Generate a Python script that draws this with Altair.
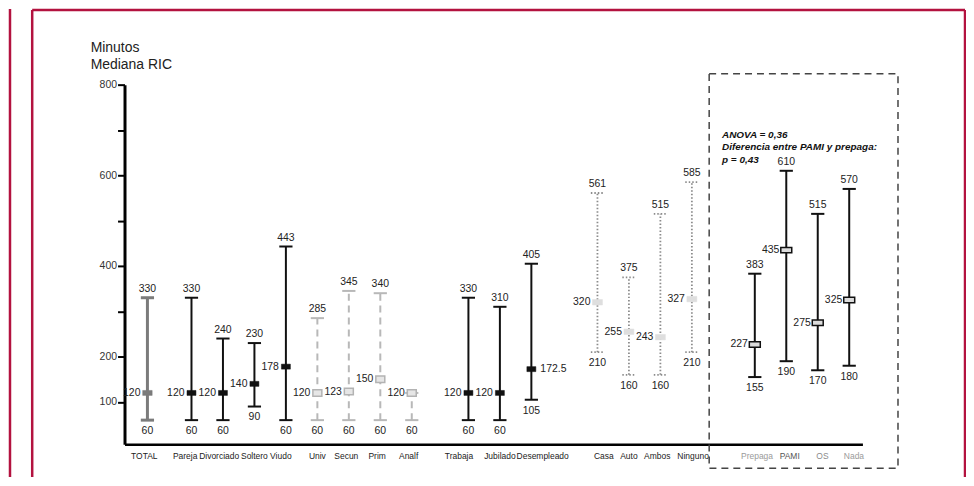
import altair as alt
import pandas as pd

# ---------------- data ----------------
categories = ["TOTAL", "Pareja", "Divorciado", "Soltero", "Viudo",
              "Univ", "Secun", "Prim", "Analf",
              "Trabaja", "Jubilado", "Desempleado",
              "Casa", "Auto", "Ambos", "Ninguno",
              "Prepaga", "PAMI", "OS", "Nada"]
q1 = [60, 60, 60, 90, 60, 60, 60, 60, 60, 60, 60, 105, 210, 160, 160, 210, 155, 190, 170, 180]
median = [120, 120, 120, 140, 178, 120, 123, 150, 120, 120, 120, 172.5, 320, 255, 243, 327, 227, 435, 275, 325]
q3 = [330, 330, 240, 230, 443, 285, 345, 340, 120, 330, 310, 405, 561, 375, 515, 585, 383, 610, 515, 570]

groups = [
    ("total", ["TOTAL"]),
    ("estado", ["Pareja", "Divorciado", "Soltero", "Viudo"]),
    ("educ", ["Univ", "Secun", "Prim", "Analf"]),
    ("ocup", ["Trabaja", "Jubilado", "Desempleado"]),
    ("viv", ["Casa", "Auto", "Ambos", "Ninguno"]),
    ("cob", ["Prepaga", "PAMI", "OS", "Nada"]),
]

title_lines = "Minutos\nMediana RIC"
note_lines = "ANOVA = 0,36\nDiferencia entre PAMI y prepaga:\np = 0,43"

# ---------------- layout / style ----------------
GROUP_GAP = {"total": 0, "estado": 1.4, "educ": 1.0, "ocup": 1.8, "viv": 2.1, "cob": 2.0}
LABEL_SHIFT = [-0.1, -0.2, -0.12, 0.0, -0.16, 0.0, -0.08, -0.1, -0.1, -0.3, 0.0, 0.36,
               0.2, 0.0, -0.1, 0.04, 0.07, 0.11, 0.15, 0.15]
LABEL_COLOR = {"Prepaga": "#9a9a9a", "PAMI": "#555555", "OS": "#8c8c8c", "Nada": "#9a9a9a"}
MED_RIGHT = ["Desempleado"]
CAP = 0.21
FONT = "Liberation Sans"
CRIMSON = "#b3123f"

STYLE = {
    "total": dict(color="#7b7b7b", width=3, dash=None, cap_dash=None, fill="#7b7b7b", stroke="#7b7b7b", sw=0.5, mw=9.5, mh=5),
    "estado": dict(color="#111111", width=2, dash=None, cap_dash=None, fill="#111111", stroke="#111111", sw=0.5, mw=9, mh=5),
    "educ": dict(color="#b8b8b8", width=2, dash=[7, 5], cap_dash=None, fill="#e6e6e6", stroke="#b3b3b3", sw=1.5, mw=9, mh=6.5),
    "ocup": dict(color="#111111", width=2, dash=None, cap_dash=None, fill="#111111", stroke="#111111", sw=0.5, mw=9, mh=5),
    "viv": dict(color="#8c8c8c", width=1.8, dash=[1.5, 2], cap_dash=[1.5, 2], fill="#dedede", stroke="#dedede", sw=0.5, mw=10, mh=5.5),
    "cob": dict(color="#111111", width=2, dash=None, cap_dash=None, fill="#dcdcdc", stroke="#111111", sw=1.5, mw=11, mh=5.5),
}

# ---------------- table ----------------
grp_of, pos_of = {}, {}
cur = None
for g, members in groups:
    for i, c in enumerate(members):
        if cur is None:
            cur = 0.0
        elif i == 0:
            cur += GROUP_GAP[g]
        else:
            cur += 1.0
        grp_of[c] = g
        pos_of[c] = round(cur, 3)


def fmt(v):
    return f"{v:g}"


df = pd.DataFrame({
    "cat": categories,
    "q1": q1,
    "med": median,
    "q3": q3,
})
df["grp"] = [grp_of[c] for c in categories]
df["pos"] = [pos_of[c] for c in categories]
df["lpos"] = df["pos"] + pd.Series(LABEL_SHIFT)
df["q1_t"] = [fmt(v) for v in q1]
df["med_t"] = [fmt(v) for v in median]
df["q3_t"] = [fmt(v) for v in q3]
df["lcolor"] = [LABEL_COLOR.get(c, "#222222") for c in categories]
df["show_top"] = [a != b for a, b in zip(q3, median)]
df["med_right"] = [c in MED_RIGHT for c in categories]

xs = alt.Scale(domain=[-0.728, 22.72], nice=False, zero=False)
ys = alt.Scale(domain=[7, 800], nice=False, zero=False)
x_axis = alt.Axis(labels=False, ticks=False, domainWidth=2.5, domainColor="black", grid=False, title=None)
y_axis = alt.Axis(values=[100, 200, 300, 400, 500, 600, 700, 800],
                  labelExpr="datum.value==300||datum.value==500||datum.value==700 ? '' : datum.label",
                  domainWidth=3, domainColor="black", tickColor="black", tickWidth=2, tickSize=7,
                  labelFontSize=10.5, labelColor="#333333", labelPadding=1, labelFont=FONT,
                  grid=False, title=None)


def X(f):
    return alt.X(f, scale=xs, axis=x_axis)


def Y(f):
    return alt.Y(f, scale=ys, axis=y_axis)


def rect_path(w, h):
    r = round(h / w, 3)
    return f"M-1,-{r}L1,-{r}L1,{r}L-1,{r}Z"


base = alt.Chart(df)
layers = []

for g, _ in groups:
    s = STYLE[g]
    b = base.transform_filter(alt.datum.grp == g).transform_calculate(
        xl=f"datum.pos - {CAP}", xr=f"datum.pos + {CAP}")
    rk = dict(color=s["color"], strokeWidth=s["width"])
    if s["dash"]:
        rk["strokeDash"] = s["dash"]
    ck = dict(color=s["color"], strokeWidth=s["width"])
    if s["cap_dash"]:
        ck["strokeDash"] = s["cap_dash"]
    layers.append(b.mark_rule(**rk).encode(x=X("pos:Q"), y=Y("q1:Q"), y2="q3:Q"))
    layers.append(b.mark_rule(**ck).encode(x=X("xl:Q"), x2="xr:Q", y=Y("q3:Q")))
    layers.append(b.mark_rule(**ck).encode(x=X("xl:Q"), x2="xr:Q", y=Y("q1:Q")))
    layers.append(b.mark_point(shape=rect_path(s["mw"], s["mh"]), size=s["mw"] ** 2, filled=True,
                               fill=s["fill"], stroke=s["stroke"], strokeWidth=s["sw"], opacity=1)
                  .encode(x=X("pos:Q"), y=Y("med:Q")))

txt = dict(font=FONT, fontSize=10.5, color="#222222")
layers.append(base.transform_filter("datum.show_top").mark_text(dy=-4, baseline="bottom", **txt)
              .encode(x=X("pos:Q"), y=Y("q3:Q"), text="q3_t:N"))
layers.append(base.mark_text(dy=6, baseline="top", **txt)
              .encode(x=X("pos:Q"), y=Y("q1:Q"), text="q1_t:N"))
layers.append(base.transform_filter("!datum.med_right").mark_text(dx=-7, align="right", baseline="middle", **txt)
              .encode(x=X("pos:Q"), y=Y("med:Q"), text="med_t:N"))
layers.append(base.transform_filter("datum.med_right").mark_text(dx=9, align="left", baseline="middle", **txt)
              .encode(x=X("pos:Q"), y=Y("med:Q"), text="med_t:N"))

# category labels
layers.append(base.mark_text(font=FONT, fontSize=8.5, baseline="middle")
              .encode(x=X("lpos:Q"), y=alt.value(373), text="cat:N",
                      color=alt.Color("lcolor:N", scale=None)))

# dashed box around the last group
box = pd.DataFrame({"x0": [pos_of["Prepaga"] - 1.45], "x1": [pos_of["Nada"] + 1.55],
                    "y0": [-46], "y1": [824]})
layers.append(alt.Chart(box).mark_rect(fillOpacity=0, stroke="#444444", strokeWidth=1.5, strokeDash=[7, 5])
              .encode(x=X("x0:Q"), x2="x1:Q", y=Y("y0:Q"), y2="y1:Q"))

one = pd.DataFrame({"k": [0]})
layers.append(alt.Chart(one).mark_text(text=note_lines, lineBreak="\n", lineHeight=12.5, font=FONT,
                                       fontStyle="italic", fontWeight="bold", fontSize=10,
                                       align="left", baseline="alphabetic", color="#111111")
              .encode(x=alt.value(600), y=alt.value(53.5)))
layers.append(alt.Chart(one).mark_text(text=title_lines, lineBreak="\n", lineHeight=17, font=FONT,
                                       fontSize=14, align="left", baseline="alphabetic", color="#222222")
              .encode(x=alt.value(-34), y=alt.value(-33)))

# crimson page frame
fr = dict(color=CRIMSON, strokeWidth=2.5)
layers.append(alt.Chart(one).mark_rule(**fr).encode(x=alt.value(-115), y=alt.value(-76), y2=alt.value(394)))
layers.append(alt.Chart(one).mark_rule(**fr).encode(x=alt.value(-92.7), y=alt.value(-75), y2=alt.value(394)))
layers.append(alt.Chart(one).mark_rule(**fr).encode(x=alt.value(-92.7), x2=alt.value(844), y=alt.value(-75)))
layers.append(alt.Chart(one).mark_rule(**fr).encode(x=alt.value(844), y=alt.value(-75), y2=alt.value(394)))

chart = alt.layer(*layers).properties(
    width=741, height=361,
    autosize=alt.AutoSizeParams(type="none"),
    padding={"left": 117, "top": 76, "right": 104, "bottom": 33},
    background="white",
).configure_view(stroke=None)

chart.save("out.html", embed_options={"renderer": "svg", "actions": False})
